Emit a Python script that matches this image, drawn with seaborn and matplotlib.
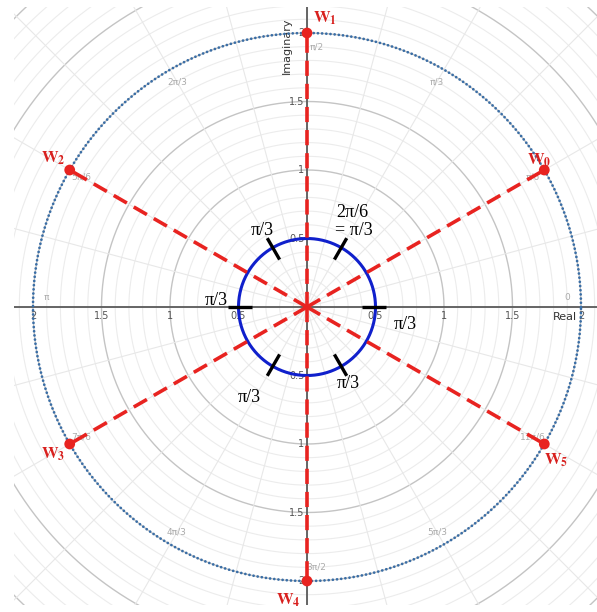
import numpy as np
import pandas as pd
import matplotlib
matplotlib.use("Agg")
import matplotlib.pyplot as plt
import seaborn as sns

# Sixth roots: w_k = 2 * exp(i(pi/6 + k*pi/3)), k = 0..5
root_index = [0, 1, 2, 3, 4, 5]
root_angle_deg = [30, 90, 150, 210, 270, 330]
root_modulus = 2.0

# Inner circle and the pi/3 divisions on it
inner_radius = 0.5
division_angle_deg = [0, 60, 120, 180, 240, 300]
arc_labels = ["π/3", "π/3", "π/3", "π/3", "π/3"]

# Axis tick values and polar angle labels
axis_ticks = [0.5, 1, 1.5, 2]
axis_tick_text = ["0.5", "1", "1.5", "2"]
angle_label_text = ["0", "π/6", "π/3", "π/2", "2π/3", "5π/6",
                    "π", "7π/6", "4π/3", "3π/2", "5π/3", "11π/6"]

sns.set_theme(style="white")
plt.rcParams["font.family"] = ["DejaVu Sans"]
plt.rcParams["mathtext.fontset"] = "stix"

W, H = 597, 612
fig = plt.figure(figsize=(W / 100, H / 100), dpi=100)
cx, cy, scale = 307, 307, 137.0
left_px, right_px, top_px, bottom_px = 14, 597, 7, 605
ax = fig.add_axes([left_px / W, (H - bottom_px) / H,
                   (right_px - left_px) / W, (bottom_px - top_px) / H])
ax.set_xlim((left_px - cx) / scale, (right_px - cx) / scale)
ax.set_ylim((cy - bottom_px) / scale, (cy - top_px) / scale)
ax.set_aspect("equal", adjustable="box")
ax.axis("off")

t = np.linspace(0, 2 * np.pi, 721)

# Polar grid: light circles every 0.1, darker every 0.5, spokes every pi/12
for r in np.round(np.arange(0.1, 3.15, 0.1), 2):
    major = abs(r * 2 - round(r * 2)) < 1e-6
    ax.plot(r * np.cos(t), r * np.sin(t),
            color="#c4c4c4" if major else "#ececec",
            lw=1.0 if major else 0.8, zorder=1)
for a in np.arange(0, 360, 15):
    ar = np.deg2rad(a)
    ax.plot([0, 3.2 * np.cos(ar)], [0, 3.2 * np.sin(ar)],
            color="#e8e8e8", lw=0.8, zorder=1)

# Real and imaginary axes
ax.axhline(0, color="#5a5a5a", lw=1.3, zorder=2)
ax.axvline(0, color="#5a5a5a", lw=1.3, zorder=2)

for v, s in zip(axis_ticks, axis_tick_text):
    for sign in (-1, 1):
        ax.text(sign * v, -0.03, s, ha="center", va="top",
                fontsize=7, color="#555555", zorder=3)
        ax.text(-0.02, sign * v, s, ha="right", va="center",
                fontsize=7, color="#555555", zorder=3)
ax.text(1.88, -0.04, "Real", ha="center", va="top", fontsize=8,
        color="#333333", zorder=3)
ax.text(-0.15, 1.91, "Imaginary", ha="center", va="center", fontsize=8,
        rotation=90, color="#333333", zorder=3)

# Angle labels around the grid
for k, s in enumerate(angle_label_text):
    th = k * np.pi / 6
    x, y = 1.9 * np.cos(th), 1.9 * np.sin(th)
    if k % 3 == 0:
        if k % 6 == 0:
            y += 0.07
        else:
            x += 0.07
    ax.text(x, y, s, ha="center", va="center", fontsize=6.5,
            color="#ababab", zorder=3)

# Circle of modulus 2 through the roots (dotted)
circle2 = pd.DataFrame({"x": root_modulus * np.cos(t),
                        "y": root_modulus * np.sin(t)})
sns.lineplot(data=circle2, x="x", y="y", sort=False, estimator=None, ax=ax,
             color="#3a6ea6", lw=2.0, linestyle=(0, (0.01, 1.5)),
             dash_capstyle="round", zorder=4)

# Inner circle of radius 0.5
circle_in = pd.DataFrame({"x": inner_radius * np.cos(t),
                          "y": inner_radius * np.sin(t)})
sns.lineplot(data=circle_in, x="x", y="y", sort=False, estimator=None, ax=ax,
             color="#1020cc", lw=2.2, zorder=4)

# pi/3 division marks
for a in division_angle_deg:
    ar = np.deg2rad(a)
    ax.plot([0.4 * np.cos(ar), 0.58 * np.cos(ar)],
            [0.4 * np.sin(ar), 0.58 * np.sin(ar)],
            color="black", lw=2.4, solid_capstyle="butt", zorder=5)

# Rays from the origin to each root
roots = pd.DataFrame({
    "k": root_index,
    "x": root_modulus * np.cos(np.deg2rad(root_angle_deg)),
    "y": root_modulus * np.sin(np.deg2rad(root_angle_deg)),
})
for _, row in roots.iterrows():
    ax.plot([0, row.x], [0, row.y], color="#e82320", lw=2.6,
            linestyle=(0, (4.2, 2.2)), zorder=6)
sns.scatterplot(data=roots, x="x", y="y", ax=ax, color="#e82320", s=60,
                edgecolor="none", zorder=7, legend=False)

# Root labels
label_offset = {0: (-0.04, 0.07), 1: (0.13, 0.11), 2: (-0.12, 0.09),
                3: (-0.12, -0.07), 4: (-0.14, -0.14), 5: (0.09, -0.12)}
for _, row in roots.iterrows():
    dx, dy = label_offset[int(row.k)]
    ax.text(row.x + dx, row.y + dy, r"$\mathbf{W_{%d}}$" % int(row.k),
            ha="center", va="center", fontsize=12, color="#d8201e", zorder=8)

# Arc labels between the division marks
serif = ["Liberation Serif", "DejaVu Serif"]
arc_pos = [(-0.33, 0.56), (-0.66, 0.05), (-0.42, -0.66),
           (0.30, -0.56), (0.72, -0.13)]
for (x, y), s in zip(arc_pos, arc_labels):
    ax.text(x, y, s, ha="center", va="center", fontsize=13, color="black",
            family=serif, zorder=8)
ax.text(0.33, 0.69, "2π/6", ha="center", va="center", fontsize=13,
        color="black", family=serif, zorder=8)
ax.text(0.34, 0.56, "= π/3", ha="center", va="center", fontsize=13,
        color="black", family=serif, zorder=8)

fig.savefig("out.png", dpi=100, facecolor="white")
